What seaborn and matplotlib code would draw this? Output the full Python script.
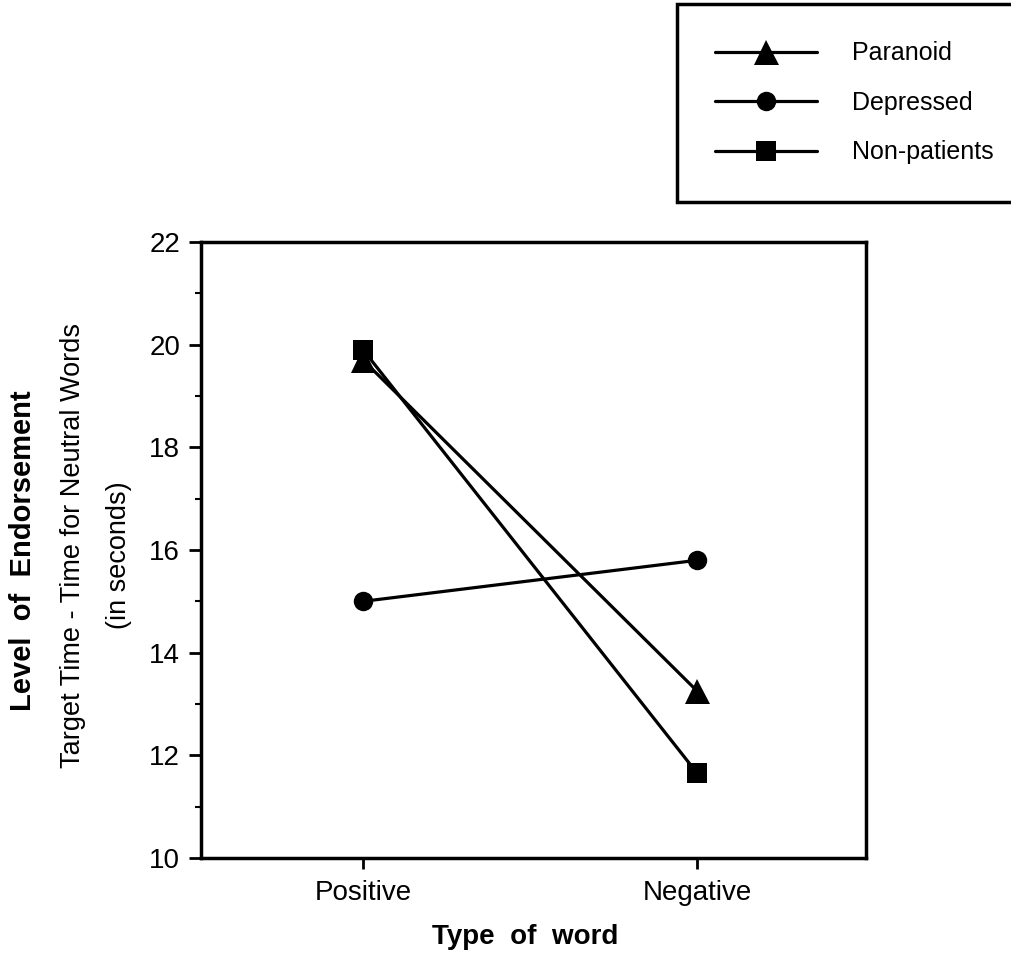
import matplotlib
matplotlib.use("Agg")
import matplotlib.pyplot as plt
from matplotlib.lines import Line2D
import seaborn as sns
import pandas as pd

# ---- data ----
word_types = ["Positive", "Negative"]
groups = ["Paranoid", "Depressed", "Non-patients"]
paranoid = [19.7, 13.25]
depressed = [15.0, 15.8]
non_patients = [19.9, 11.65]
y_ticks = [10, 12, 14, 16, 18, 20, 22]

rows = []
for g, vals in zip(groups, [paranoid, depressed, non_patients]):
    for w, v in zip(word_types, vals):
        rows.append({"group": g, "word": w, "value": v})
df = pd.DataFrame(rows)

sns.set_theme(style="white")
plt.rcParams["font.family"] = ["Liberation Sans", "DejaVu Sans"]
plt.rcParams["text.color"] = "black"
plt.rcParams["axes.labelcolor"] = "black"
plt.rcParams["xtick.color"] = "black"
plt.rcParams["ytick.color"] = "black"

W, H = 1011, 955
fig = plt.figure(figsize=(W / 100, H / 100), dpi=100)
ax = fig.add_axes([201 / W, 1 - 858 / H, (866 - 201) / W, (858 - 242) / H])

markers = {"Paranoid": "^", "Depressed": "o", "Non-patients": "s"}
sizes = {"Paranoid": 18, "Depressed": 14, "Non-patients": 14}
palette = {g: "black" for g in groups}

sns.lineplot(data=df, x="word", y="value", hue="group", style="group",
             markers=markers, dashes=False, palette=palette, sort=False,
             linewidth=2.3, markersize=14, markeredgewidth=0, ax=ax,
             legend=False)
for line, g in zip(ax.get_lines(), groups):
    line.set_markersize(sizes[g])

ax.set_xlim(-0.485, 1.505)
ax.set_ylim(10, 22)
ax.set_yticks(y_ticks)
ax.set_yticks(range(10, 23), minor=True)
ax.set_xticks([0, 1])
ax.set_xticklabels(word_types)
ax.set_xlabel("")
ax.set_ylabel("")
for s in ax.spines.values():
    s.set_linewidth(2.5)
    s.set_color("black")
ax.tick_params(axis="y", which="major", direction="out", length=9, width=2,
               labelsize=20, pad=6, left=True, colors="black")
ax.tick_params(axis="y", which="minor", direction="out", length=4, width=1.5,
               left=True, colors="black")
ax.tick_params(axis="x", which="major", direction="out", length=8, width=2,
               labelsize=20, pad=8, bottom=True, colors="black")

fig.text(525 / W, 1 - 937 / H, "Type  of  word", ha="center", va="center",
         fontsize=20, fontweight="bold", color="black")
fig.text(23 / W, 1 - 551 / H, "Level  of  Endorsement", rotation=90,
         ha="center", va="center", fontsize=21, fontweight="bold", color="black")
fig.text(73 / W, 1 - 545 / H, "Target Time - Time for Neutral Words",
         rotation=90, ha="center", va="center", fontsize=19.5, color="black")
fig.text(119 / W, 1 - 555 / H, "(in seconds)", rotation=90,
         ha="center", va="center", fontsize=19.5, color="black")

handles = [Line2D([], [], color="black", lw=2.3, marker=markers[g],
                  markersize=sizes[g], markeredgewidth=0) for g in groups]
leg = fig.legend(handles, groups, loc="upper left",
                 bbox_to_anchor=(677 / W, 1 - 4 / H),
                 fontsize=18, frameon=True, fancybox=False, shadow=False,
                 framealpha=1, handlelength=4.1, handletextpad=1.4,
                 borderpad=1.5, labelspacing=1.02, borderaxespad=0)
leg.get_frame().set_edgecolor("black")
leg.get_frame().set_linewidth(2.5)
for t in leg.get_texts():
    t.set_color("black")

fig.savefig("out.png", dpi=100)
